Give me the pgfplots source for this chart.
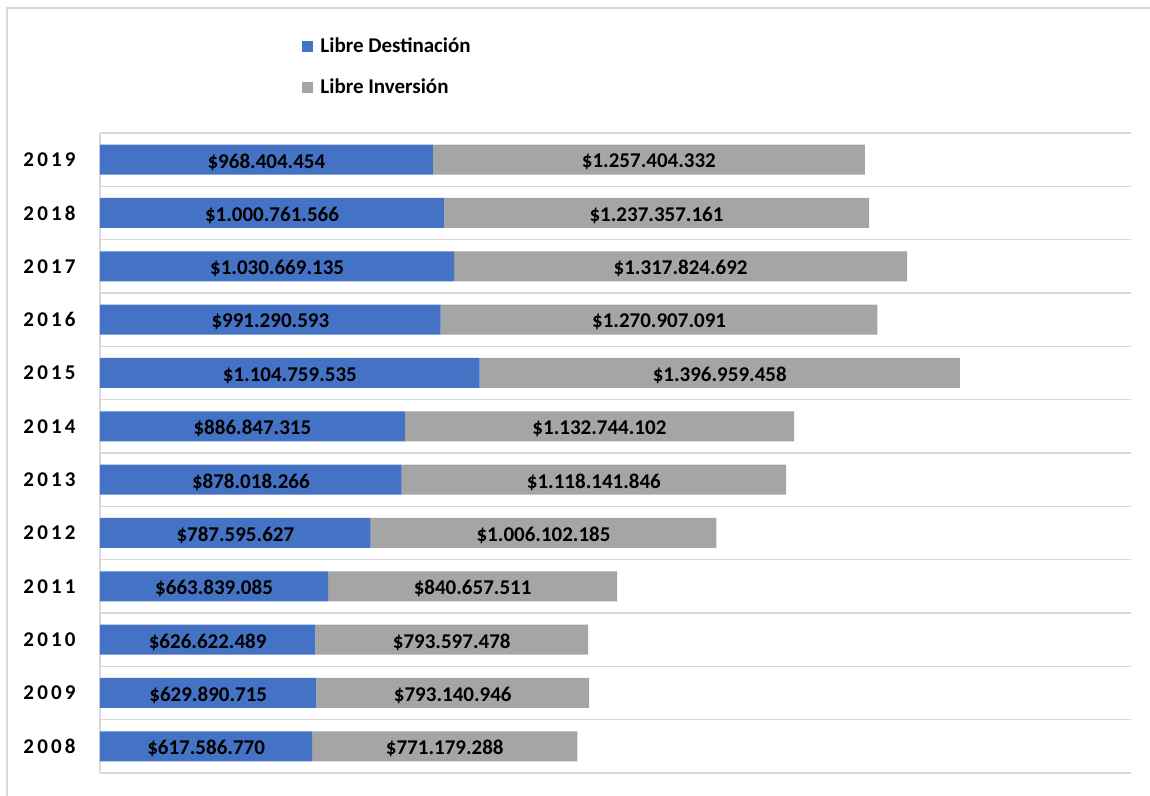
\documentclass[border=0pt]{standalone}
\usepackage{fontspec}
\setmainfont{Carlito}
\usepackage{pgfplots}
\pgfplotsset{compat=1.18}
\definecolor{bblue}{HTML}{4472C4}
\definecolor{bgray}{HTML}{A5A5A5}
\definecolor{gridc}{HTML}{D9D9D9}
\newcommand\yr[4]{#1\kern1.6pt#2\kern1.6pt#3\kern1.6pt#4}
\begin{document}
\fontsize{10.5}{12.6}\selectfont\bfseries
\begin{tikzpicture}[x=1pt,y=1pt]
\useasboundingbox (0,0) rectangle (575,398);
\draw[gridc, line width=1pt] (3.5,0) -- (3.5,394) -- (575,394);
\begin{axis}[
  at={(50pt,11.5pt)}, anchor=south west,
  scale only axis, width=515.5pt, height=320pt,
  xbar stacked, bar width=15pt,
  xmin=0, xmax=3000, ymin=-0.5, ymax=11.5,
  xtick=\empty,
  ytick={0,...,11},
  yticklabels={\yr2008,\yr2009,\yr2010,\yr2011,\yr2012,\yr2013,\yr2014,\yr2015,\yr2016,\yr2017,\yr2018,\yr2019},
  minor ytick={-0.5,0.5,...,11.5},
  ymajorgrids=false, yminorgrids=true,
  minor grid style={gridc, line width=0.75pt},
  major tick length=0pt, minor tick length=0pt,
  axis x line=none, axis y line*=left,
  y axis line style={gridc, line width=0.75pt, -},
  yticklabel style={anchor=east, inner sep=0pt, xshift=-12pt, text=black},
  point meta=explicit symbolic,
  nodes near coords,
  every node near coord/.append style={anchor=center, inner sep=0pt, text=black, yshift=-1.25pt},
  legend style={draw=none, fill=none, at={(axis description cs:0.196,1.153)}, anchor=north west,
     inner sep=0pt, row sep=9.5pt, nodes={inner sep=1pt, xshift=2.5pt}},
  legend cell align=left,
  legend image code/.code={\fill[#1,draw=none] (0pt,-2.75pt) rectangle (5.5pt,2.75pt); \path (8pt,0pt);},
]
\addplot[fill=bblue, draw=none] coordinates {
(617.586770,0) [\$617.586.770]
(629.890715,1) [\$629.890.715]
(626.622489,2) [\$626.622.489]
(663.839085,3) [\$663.839.085]
(787.595627,4) [\$787.595.627]
(878.018266,5) [\$878.018.266]
(886.847315,6) [\$886.847.315]
(1104.759535,7) [\$1.104.759.535]
(991.290593,8) [\$991.290.593]
(1030.669135,9) [\$1.030.669.135]
(1000.761566,10) [\$1.000.761.566]
(968.404454,11) [\$968.404.454]
};
\addlegendentry{Libre Destinación}
\addplot[fill=bgray, draw=none] coordinates {
(771.179288,0) [\$771.179.288]
(793.140946,1) [\$793.140.946]
(793.597478,2) [\$793.597.478]
(840.657511,3) [\$840.657.511]
(1006.102185,4) [\$1.006.102.185]
(1118.141846,5) [\$1.118.141.846]
(1132.744102,6) [\$1.132.744.102]
(1396.959458,7) [\$1.396.959.458]
(1270.907091,8) [\$1.270.907.091]
(1317.824692,9) [\$1.317.824.692]
(1237.357161,10) [\$1.237.357.161]
(1257.404332,11) [\$1.257.404.332]
};
\addlegendentry{Libre Inversión}
\end{axis}
\end{tikzpicture}
\end{document}
